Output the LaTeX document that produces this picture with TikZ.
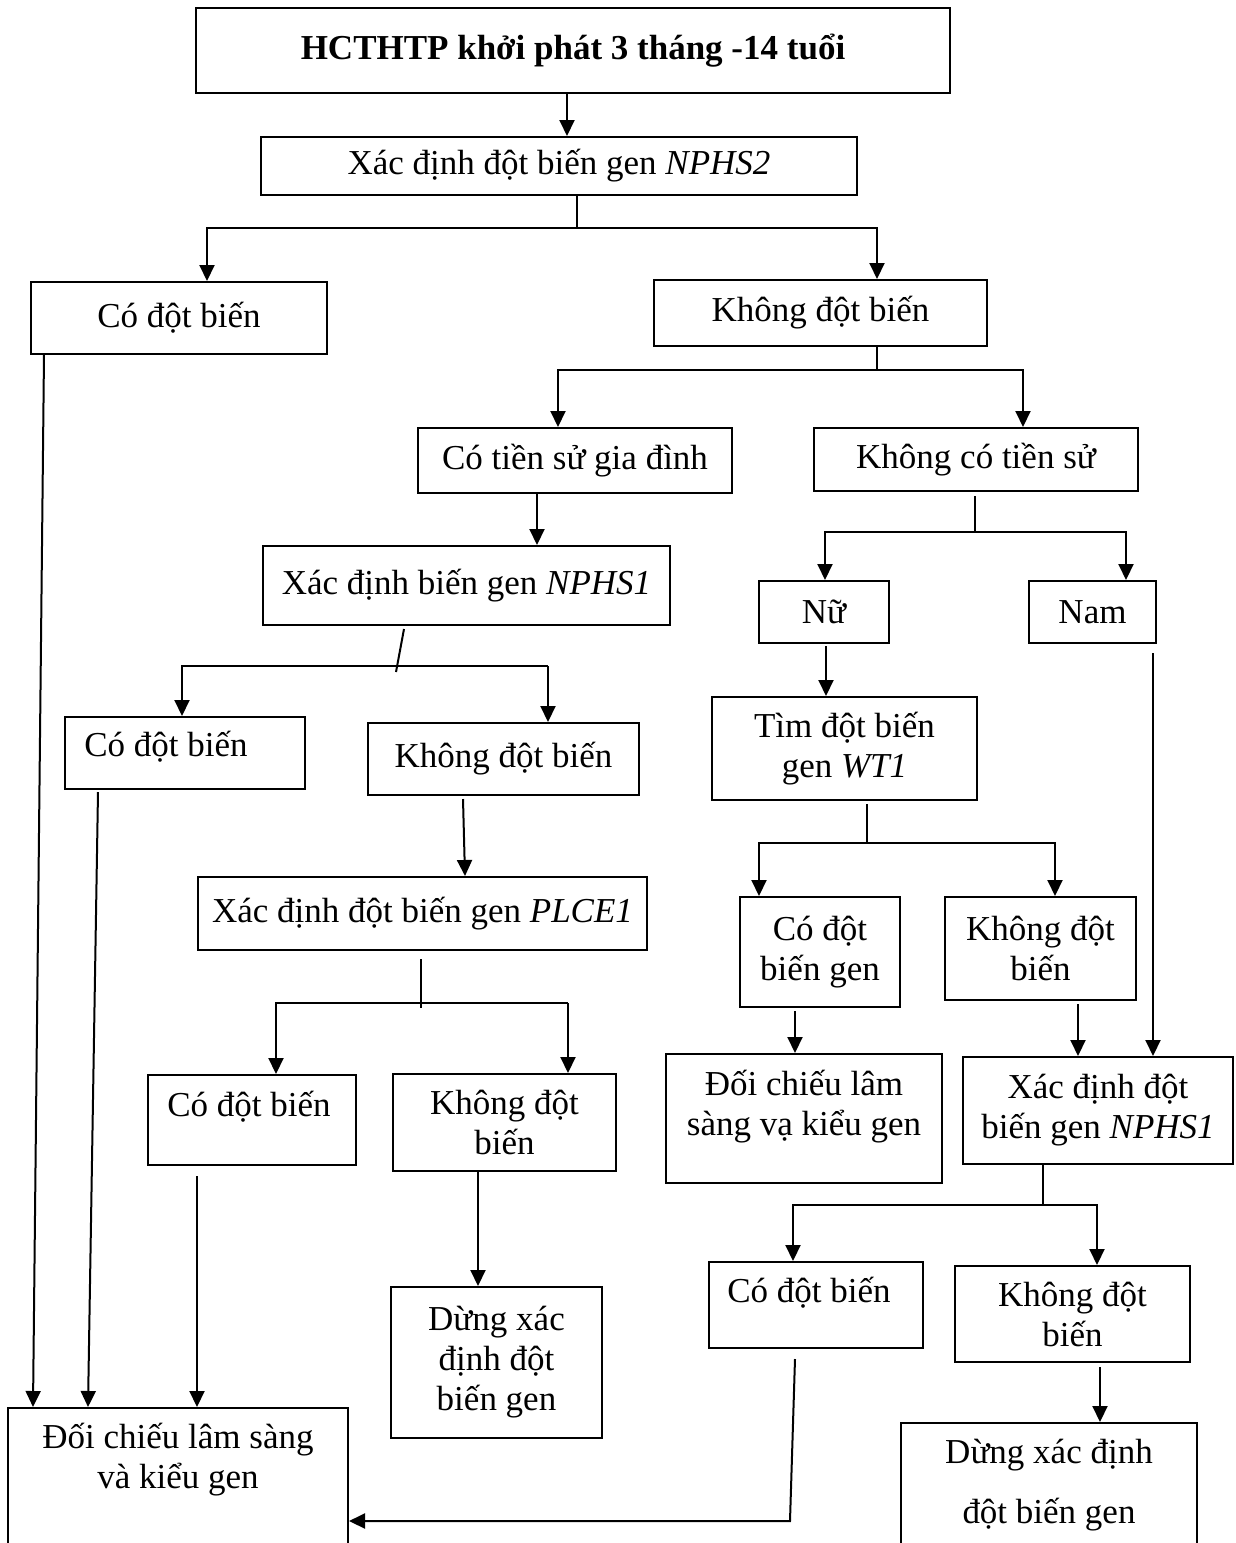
\documentclass[tikz,border=0pt]{standalone}
\usepackage{fontspec}
\setmainfont{Liberation Serif}
\usetikzlibrary{arrows.meta}
\tikzset{
  flowbox/.style={draw=black,line width=2pt,inner sep=0pt,align=center},
  flowtext/.style={inner sep=0pt,align=center},
  flowline/.style={line width=2pt},
  flowarrow/.style={line width=2pt,-{Triangle[width=15pt,length=16pt]}},
  every picture/.style={font=\fontsize{35}{40}\selectfont}
}
\begin{document}
\begin{tikzpicture}[x=1pt,y=-1pt]
  \useasboundingbox (0,0) rectangle (1236,1543);
  \clip (0,0) rectangle (1236,1543);
  % boxes, left half
  \node[flowbox,minimum width=754pt,minimum height=85pt] (top) at (573,50.5) {\textbf{HCTHTP khởi phát 3 tháng -14 tuổi}};
  \node[flowbox,minimum width=596pt,minimum height=58pt] (nphs2) at (559,166) {Xác định đột biến gen \textit{NPHS2}};
  \node[flowbox,minimum width=296pt,minimum height=72pt] (co1) at (179,318) {Có đột biến};
  \node[flowbox,minimum width=333pt,minimum height=66pt] (kh1) at (820.5,313) {Không đột biến};
  \node[flowbox,minimum width=314pt,minimum height=65pt] (tsgd) at (575,460.5) {Có tiền sử gia đình};
  \node[flowbox,minimum width=324pt,minimum height=63pt] (ktsu) at (976,459.5) {Không có tiền sử};
  \node[flowbox,minimum width=407pt,minimum height=79pt] (nphs1a) at (466.5,585.5) {Xác định biến gen \textit{NPHS1}};
  \node[flowbox,minimum width=240pt,minimum height=72pt] (co2) at (185,753) {};
  \node[flowtext] (co2t) at (166,747) {Có đột biến};
  \node[flowbox,minimum width=271pt,minimum height=72pt] (kh2) at (503.5,759) {Không đột biến};
  \node[flowbox,minimum width=449pt,minimum height=73pt] (plce1) at (422.5,913.5) {Xác định đột biến gen \textit{PLCE1}};
  \node[flowbox,minimum width=208pt,minimum height=90pt] (co3) at (252,1120) {};
  \node[flowtext] (co3t) at (249,1107) {Có đột biến};
  \node[flowbox,minimum width=223pt,minimum height=97pt] (kh3) at (504.5,1122.5) {Không đột\\biến};
  \node[flowbox,minimum width=211pt,minimum height=151pt] (dung1) at (496.5,1362.5) {Dừng xác\\định đột\\biến gen};
  \node[flowbox,minimum width=340pt,minimum height=152pt] (dc1) at (178,1484) {};
  \node[flowtext] (dc1t) at (178,1460) {Đối chiếu lâm sàng\\và kiểu gen};
  % boxes, right half
  \node[flowbox,minimum width=130pt,minimum height=62pt] (nu) at (824,612) {Nữ};
  \node[flowbox,minimum width=127pt,minimum height=62pt] (nam) at (1092.5,612) {Nam};
  \node[flowbox,minimum width=265pt,minimum height=103pt] (wt1) at (844.5,748.5) {Tìm đột biến\\gen \textit{WT1}};
  \node[flowbox,minimum width=160pt,minimum height=110pt] (cog) at (820,952) {Có đột\\biến gen};
  \node[flowbox,minimum width=191pt,minimum height=103pt] (kh4) at (1040.5,948.5) {Không đột\\biến};
  \node[flowbox,minimum width=276pt,minimum height=129pt] (dc2) at (804,1118.5) {};
  \node[flowtext] (dc2t) at (804,1107) {Đối chiếu lâm\\sàng vạ kiểu gen};
  \node[flowbox,minimum width=270pt,minimum height=107pt] (nphs1b) at (1098,1110.5) {Xác định đột\\biến gen \textit{NPHS1}};
  \node[flowbox,minimum width=214pt,minimum height=86pt] (co4) at (816,1305) {};
  \node[flowtext] (co4t) at (809,1293) {Có đột biến};
  \node[flowbox,minimum width=235pt,minimum height=96pt] (kh5) at (1072.5,1314) {Không đột\\biến};
  \node[flowbox,minimum width=296pt,minimum height=137pt] (dung2) at (1049,1491.5) {};
  \node[flowtext] (dung2t) at (1049,1485) {Dừng xác định\\[20pt]đột biến gen};
  % junctions
  \coordinate (j1l) at (207,228);
  \coordinate (j1r) at (877,228);
  \coordinate (j2l) at (558,370);
  \coordinate (j2r) at (1023,370);
  \coordinate (j3l) at (182,666);
  \coordinate (j3r) at (548,666);
  \coordinate (s3) at (396,672);
  \coordinate (j4l) at (276,1003);
  \coordinate (j4r) at (568,1003);
  \coordinate (s4) at (421,1008);
  \coordinate (j5l) at (825,532);
  \coordinate (j5r) at (1126,532);
  \coordinate (j6l) at (759,843);
  \coordinate (j6r) at (1055,843);
  \coordinate (j7l) at (793,1205);
  \coordinate (j7r) at (1097,1205);
  \coordinate (j8) at (790,1521);
  % connectors
  \draw[flowarrow] ([xshift=-6pt]top.south) -- ([xshift=8pt]nphs2.north);
  \draw[flowarrow] ([xshift=18pt]nphs2.south) |- (j1l) -- (j1l |- co1.north);
  \draw[flowarrow] ([xshift=18pt]nphs2.south) |- (j1r) -- (j1r |- kh1.north);
  \draw[flowarrow] ([xshift=56.5pt]kh1.south) |- (j2l) -- (j2l |- tsgd.north);
  \draw[flowarrow] ([xshift=56.5pt]kh1.south) |- (j2r) -- (j2r |- ktsu.north);
  \draw[flowarrow] ([xshift=-38pt]tsgd.south) -- ([xshift=-38pt]tsgd.south |- nphs1a.north);
  \draw[flowline] ([xshift=-62.5pt,yshift=-3pt]nphs1a.south) -- (s3);
  \draw[flowarrow] (j3r) -- (j3l) -- (j3l |- co2.north);
  \draw[flowarrow] (j3r) -- (j3r |- kh2.north);
  \draw[flowarrow] ([xshift=-40.5pt,yshift=-3pt]kh2.south) -- ([xshift=42.5pt]plce1.north);
  \draw[flowline] ([xshift=-1.5pt,yshift=-8pt]plce1.south) -- (s4);
  \draw[flowarrow] (j4r) -- (j4l) -- (j4l |- co3.north);
  \draw[flowarrow] (j4r) -- (j4r |- kh3.north);
  \draw[flowarrow] ([xshift=-26.5pt]kh3.south) -- ([xshift=-18.5pt]dung1.north);
  \draw[flowarrow] ([xshift=-135pt]co1.south) -- ([xshift=-145pt]dc1.north);
  \draw[flowarrow] ([xshift=-87pt,yshift=-2pt]co2.south) -- ([xshift=-90pt]dc1.north);
  \draw[flowarrow] ([xshift=-55pt,yshift=-10pt]co3.south) -- ([xshift=19pt]dc1.north);
  \draw[flowarrow] ([xshift=-1pt,yshift=-4pt]ktsu.south) |- (j5l) -- (j5l |- nu.north);
  \draw[flowarrow] ([xshift=-1pt,yshift=-4pt]ktsu.south) |- (j5r) -- (j5r |- nam.north);
  \draw[flowarrow] ([xshift=2pt,yshift=-2pt]nu.south) -- ([xshift=-18.5pt]wt1.north);
  \draw[flowarrow] ([xshift=22.5pt,yshift=-3pt]wt1.south) |- (j6l) -- (j6l |- cog.north);
  \draw[flowarrow] ([xshift=22.5pt,yshift=-3pt]wt1.south) |- (j6r) -- (j6r |- kh4.north);
  \draw[flowarrow] ([xshift=-25pt,yshift=-3pt]cog.south) -- ([xshift=-9pt]dc2.north);
  \draw[flowarrow] ([xshift=37.5pt,yshift=-3pt]kh4.south) -- ([xshift=-20pt]nphs1b.north);
  \draw[flowarrow] ([xshift=60.5pt,yshift=-9pt]nam.south) -- ([xshift=55pt]nphs1b.north);
  \draw[flowarrow] ([xshift=-55pt]nphs1b.south) |- (j7l) -- (j7l |- co4.north);
  \draw[flowarrow] ([xshift=-55pt]nphs1b.south) |- (j7r) -- (j7r |- kh5.north);
  \draw[flowarrow] ([xshift=27.5pt,yshift=-4pt]kh5.south) -- ([xshift=51pt]dung2.north);
  \draw[flowarrow] ([xshift=-21pt,yshift=-10pt]co4.south) -- (j8) -- (j8 -| dc1.east);
\end{tikzpicture}
\end{document}
